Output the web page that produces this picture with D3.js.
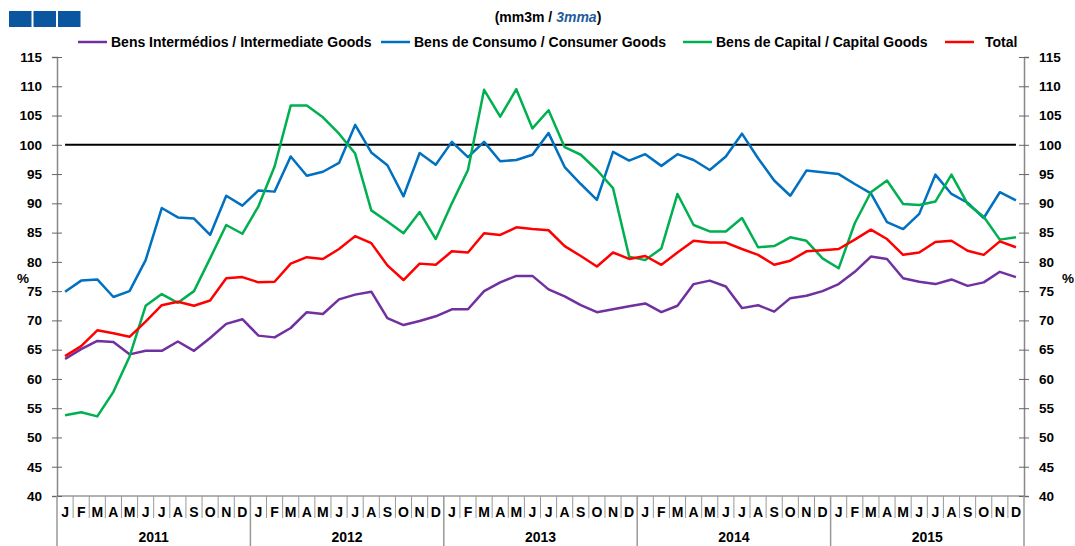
<!DOCTYPE html>
<html>
<head>
<meta charset="utf-8">
<script src="https://cdn.jsdelivr.net/npm/d3@7/dist/d3.min.js"></script>
<style>
  body { margin: 0; background: #fff; }
  svg text { font-family: "Liberation Sans", Arial, sans-serif; font-weight: bold; }
</style>
</head>
<body>
<div id="chart"></div>
<script>
// data
const years = ["2011", "2012", "2013", "2014", "2015"];
const monthLetters = ["J", "F", "M", "A", "M", "J", "J", "A", "S", "O", "N", "D"];
const yTicks = [40, 45, 50, 55, 60, 65, 70, 75, 80, 85, 90, 95, 100, 105, 110, 115];
const refLevel = 100;

const intermediate = [
  63.4, 65.1, 66.5, 66.3, 64.2, 64.8, 64.8, 66.4, 64.8, 67.0, 69.4, 70.2,
  67.4, 67.1, 68.7, 71.4, 71.1, 73.6, 74.4, 74.9, 70.4, 69.2, 69.9, 70.7,
  71.9, 71.9, 75.0, 76.5, 77.6, 77.6, 75.3, 74.1, 72.6, 71.4, 71.9, 72.4,
  72.9, 71.4, 72.5, 76.2, 76.8, 75.8, 72.1, 72.6, 71.5, 73.8, 74.2, 75.0,
  76.2, 78.3, 80.9, 80.5, 77.2, 76.6, 76.2, 77.0, 75.9, 76.5, 78.3, 77.4
];
const consumer = [
  74.9, 76.8, 77.0, 74.0, 75.0, 80.3, 89.2, 87.6, 87.4, 84.6, 91.3, 89.6,
  92.2, 92.0, 98.0, 94.7, 95.4, 96.9, 103.4, 98.7, 96.5, 91.2, 98.6, 96.6,
  100.5, 97.9, 100.5, 97.2, 97.4, 98.3, 102.0, 96.2, 93.3, 90.6, 98.8, 97.3,
  98.4, 96.4, 98.4, 97.4, 95.7, 98.0, 101.9, 97.7, 93.9, 91.3, 95.6, 95.3,
  95.0, 93.3, 91.7, 86.8, 85.6, 88.2, 94.9, 91.6, 90.1, 87.5, 91.9, 90.5
];
const capital = [
  53.8, 54.3, 53.6, 57.8, 63.8, 72.5, 74.5, 73.0, 75.0, 80.6, 86.3, 84.8,
  89.5, 96.3, 106.7, 106.7, 104.7, 101.9, 98.5, 88.8, 86.9, 84.9, 88.5, 83.9,
  90.0, 95.7, 109.4, 104.8, 109.5, 102.8, 105.9, 99.6, 98.3, 95.7, 92.6, 80.9,
  80.3, 82.3, 91.6, 86.3, 85.2, 85.2, 87.5, 82.5, 82.7, 84.2, 83.6, 80.6,
  78.9, 86.6, 91.9, 93.9, 89.9, 89.7, 90.3, 94.9, 89.9, 87.7, 83.8, 84.2
];
const total = [
  63.9, 65.6, 68.3, 67.8, 67.2, 69.8, 72.6, 73.2, 72.5, 73.4, 77.2, 77.4,
  76.5, 76.6, 79.7, 80.8, 80.5, 82.2, 84.4, 83.2, 79.4, 76.9, 79.7, 79.5,
  81.8, 81.6, 84.9, 84.6, 85.9, 85.6, 85.4, 82.7, 81.0, 79.2, 81.6, 80.5,
  81.0, 79.5, 81.6, 83.6, 83.3, 83.3, 82.2, 81.2, 79.5, 80.2, 81.8, 82.0,
  82.2, 83.8, 85.5, 83.9, 81.2, 81.6, 83.4, 83.6, 81.9, 81.2, 83.5, 82.5
];

const seriesNames = [
  "Bens Intermédios / Intermediate Goods",
  "Bens de Consumo / Consumer Goods",
  "Bens de Capital / Capital Goods",
  "Total"
];
const seriesColors = ["#7030a0", "#0070c0", "#00b050", "#ff0000"];
const seriesValues = [intermediate, consumer, capital, total];

// months list built from years x month letters
const months = [];
years.forEach(yr => monthLetters.forEach((m, k) => months.push({ year: yr, m: m, k: k })));

const W = 1075, H = 546;
const margin = { top: 57, right: 51, bottom: 50, left: 57 };
const innerW = W - margin.left - margin.right;
const innerH = H - margin.top - margin.bottom;

const svg = d3.select("#chart").append("svg")
  .attr("width", W)
  .attr("height", H);

const g = svg.append("g")
  .attr("transform", `translate(${margin.left},${margin.top})`);

const x = d3.scaleBand()
  .domain(d3.range(months.length))
  .range([0, innerW])
  .padding(0);
const y = d3.scaleLinear()
  .domain([40, 115])
  .range([innerH, 0]);
const cx = i => x(i) + x.bandwidth() / 2;

// logo blocks
svg.selectAll(".logo")
  .data([0, 1, 2])
  .enter().append("rect")
  .attr("x", d => 9 + d * 24.5)
  .attr("y", 11)
  .attr("width", 22.5)
  .attr("height", 16)
  .attr("fill", "#0a57a0");

// subtitle
const sub = svg.append("text")
  .attr("x", 548)
  .attr("y", 22)
  .attr("text-anchor", "middle")
  .style("font-size", "14px")
  .attr("fill", "#000");
sub.append("tspan").text("(mm3m / ");
sub.append("tspan").text("3mma").attr("fill", "#1f5c9e").style("font-style", "italic");
sub.append("tspan").text(")");

// legend
const legendX = [78, 381, 683, 945];
const legendGap = [33, 33, 33, 40];
const leg = svg.selectAll(".leg")
  .data(seriesNames)
  .enter().append("g")
  .attr("transform", (d, i) => `translate(${legendX[i]},42)`);
leg.append("line")
  .attr("x1", 0).attr("x2", 29)
  .attr("stroke", (d, i) => seriesColors[i])
  .attr("stroke-width", 2.5);
leg.append("text")
  .attr("x", (d, i) => legendGap[i])
  .attr("y", 5)
  .style("font-size", "14px")
  .text(d => d);

// left axis
const axisL = g.append("g")
  .call(d3.axisLeft(y).tickValues(yTicks).tickSize(5).tickPadding(10));
axisL.select(".domain").attr("stroke", "#888").attr("stroke-width", 1.5);
axisL.selectAll(".tick line").attr("x1", 5).attr("x2", -5).attr("stroke", "#666");
axisL.selectAll(".tick text").style("font-size", "13.5px").attr("fill", "#000");

// right axis
const axisR = g.append("g")
  .attr("transform", `translate(${innerW},0)`)
  .call(d3.axisRight(y).tickValues(yTicks).tickSize(5).tickPadding(10));
axisR.select(".domain").attr("stroke", "#888").attr("stroke-width", 1.5);
axisR.selectAll(".tick line").attr("x1", -5).attr("x2", 5).attr("stroke", "#666");
axisR.selectAll(".tick text").style("font-size", "13.5px").attr("fill", "#000");

// % labels
g.append("text").attr("x", -40).attr("y", y(77) + 4).text("%")
  .style("font-size", "13.5px");
g.append("text").attr("x", innerW + 38).attr("y", y(77) + 4).text("%")
  .style("font-size", "13.5px");

// bottom month axis
g.append("line")
  .attr("x1", 0).attr("x2", innerW)
  .attr("y1", innerH).attr("y2", innerH)
  .attr("stroke", "#666").attr("stroke-width", 1.2);

const monthG = g.append("g").attr("transform", `translate(0,${innerH})`);
monthG.selectAll(".msep")
  .data(d3.range(months.length + 1))
  .enter().append("line")
  .attr("x1", i => i < months.length ? x(i) : innerW)
  .attr("x2", i => i < months.length ? x(i) : innerW)
  .attr("y1", 0)
  .attr("y2", i => (i % 12 === 0) ? 50 : 22)
  .attr("stroke", "#999")
  .attr("stroke-width", i => (i % 12 === 0) ? 1.5 : 1);
monthG.selectAll(".mlab")
  .data(months)
  .enter().append("text")
  .attr("x", (d, i) => cx(i))
  .attr("y", 21)
  .attr("text-anchor", "middle")
  .style("font-size", "14px")
  .text(d => d.m);
monthG.selectAll(".ylab")
  .data(years)
  .enter().append("text")
  .attr("x", (d, i) => (x(i * 12) + x(i * 12 + 11) + x.bandwidth()) / 2)
  .attr("y", 46)
  .attr("text-anchor", "middle")
  .style("font-size", "14px")
  .text(d => d);

// 100 reference line
g.append("line")
  .attr("x1", cx(0)).attr("x2", cx(months.length - 1))
  .attr("y1", y(refLevel)).attr("y2", y(refLevel))
  .attr("stroke", "#000").attr("stroke-width", 2);

// series lines
const line = d3.line()
  .x((d, i) => cx(i))
  .y(d => y(d));

g.selectAll(".series")
  .data(seriesValues)
  .enter().append("path")
  .attr("class", "series")
  .attr("d", d => line(d))
  .attr("fill", "none")
  .attr("stroke", (d, i) => seriesColors[i])
  .attr("stroke-width", 2.5)
  .attr("stroke-linejoin", "round");
</script>
</body>
</html>
